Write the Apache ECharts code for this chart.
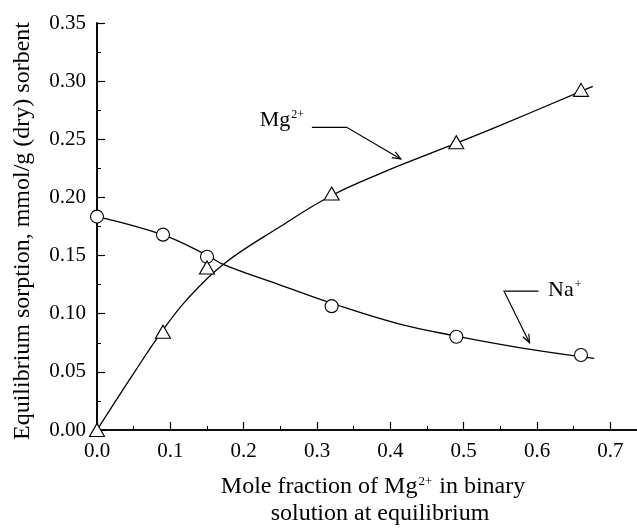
<!DOCTYPE html>
<html>
<head>
<meta charset="utf-8">
<script src="https://cdn.jsdelivr.net/npm/echarts@6/dist/echarts.min.js"></script>
<style>
html,body{margin:0;padding:0;overflow:hidden;background:#fff;width:637px;height:530px;}
#c{width:647px;height:530px;}
</style>
</head>
<body>
<div id="c"></div>
<script>
// Measured points
const xMeasured = [0.0, 0.09, 0.15, 0.32, 0.49, 0.66];
const naMeasured = [0.1835, 0.168, 0.149, 0.1065, 0.0802, 0.0645];
const mgMeasured = [0.0, 0.0845, 0.1398, 0.2033, 0.2475, 0.2925];
// Fitted curves
const naCurveX = [0.0, 0.089, 0.148, 0.172, 0.25, 0.32, 0.409, 0.488, 0.58, 0.678];
const naCurveY = [0.1835, 0.168, 0.151, 0.1424, 0.1246, 0.109, 0.0917, 0.081, 0.0705, 0.0616];
const mgCurveX = [0.0, 0.05, 0.09, 0.122, 0.172, 0.25, 0.318, 0.386, 0.477, 0.55, 0.676];
const mgCurveY = [0.0, 0.0487, 0.086, 0.1117, 0.1424, 0.175, 0.201, 0.2205, 0.2434, 0.262, 0.2955];
// Tick values
const xTicks = [0.0, 0.1, 0.2, 0.3, 0.4, 0.5, 0.6, 0.7];
const yTicks = [0.00, 0.05, 0.10, 0.15, 0.20, 0.25, 0.30, 0.35];
// Annotation anchors in data coordinates
const mgLabelPos = [0.222, 0.2663];
const mgLeader = [[0.293, 0.2603], [0.3405, 0.2603], [0.4142, 0.2331]];
const naLabelPos = [0.615, 0.1203];
const naLeader = [[0.602, 0.1194], [0.555, 0.1194], [0.5898, 0.075]];

const FONT = '"Liberation Serif","Times New Roman",serif';
const zip = (a, b) => a.map((v, i) => [v, b[i]]);

const chart = echarts.init(document.getElementById('c'), null, {renderer: 'canvas'});

const axisCommon = {
  axisLine: {show: true, lineStyle: {color: '#000', width: 1.6}},
  splitLine: {show: false},
};

chart.setOption({
  animation: false,
  backgroundColor: '#fff',
  grid: {left: 97, right: 0, top: 23, bottom: 100},
  xAxis: [{
    type: 'value', min: 0, max: 0.75, interval: 0.1,
    ...axisCommon,
    axisTick: {show: true, inside: true, length: 8, lineStyle: {color: '#000', width: 1.2}},
    minorTick: {show: true, splitNumber: 2, length: 4, lineStyle: {color: '#000', width: 1}},
    axisLabel: {
      color: '#000', fontFamily: FONT, fontSize: 21, margin: 11, showMaxLabel: false,
      formatter: v => {
        const hit = xTicks.find(t => Math.abs(t - v) < 1e-9);
        return hit === undefined ? '' : hit.toFixed(1);
      }
    }
  }, {
    type: 'value', position: 'top', min: 0, max: 0.75,
    ...axisCommon,
    axisTick: {show: false}, axisLabel: {show: false}
  }],
  yAxis: [{
    type: 'value', min: 0, max: 0.35, interval: 0.05,
    ...axisCommon,
    axisTick: {show: true, inside: true, length: 8, lineStyle: {color: '#000', width: 1.2}},
    minorTick: {show: true, splitNumber: 2, length: 4, lineStyle: {color: '#000', width: 1}},
    axisLabel: {
      color: '#000', fontFamily: FONT, fontSize: 21, margin: 11,
      formatter: v => {
        const hit = yTicks.find(t => Math.abs(t - v) < 1e-9);
        return hit === undefined ? '' : hit.toFixed(2);
      }
    }
  }, {
    type: 'value', position: 'right', min: 0, max: 0.35,
    ...axisCommon,
    axisTick: {show: false}, axisLabel: {show: false}
  }],
  series: [
    {type: 'line', data: zip(naCurveX, naCurveY), smooth: 0.4, symbol: 'none',
     lineStyle: {color: '#000', width: 1.3}, z: 2},
    {type: 'line', data: zip(mgCurveX, mgCurveY), smooth: 0.4, symbol: 'none',
     lineStyle: {color: '#000', width: 1.3}, z: 2},
    {type: 'scatter', data: zip(xMeasured, naMeasured), symbol: 'circle', symbolSize: 13,
     itemStyle: {color: '#fff', borderColor: '#000', borderWidth: 1.1, opacity: 1}, z: 5},
    {type: 'scatter', data: zip(xMeasured, mgMeasured), symbol: 'triangle', symbolSize: [15, 13],
     itemStyle: {color: '#fff', borderColor: '#000', borderWidth: 1.1, opacity: 1}, z: 5}
  ]
});

function px(p) { return chart.convertToPixel({gridIndex: 0}, p); }

function leaderGraphics(pts) {
  const P = pts.map(px);
  const tip = P[P.length - 1], prev = P[P.length - 2];
  const ang = Math.atan2(tip[1] - prev[1], tip[0] - prev[0]);
  const L = 9, W = 0.38;
  const a1 = [tip[0] - L * Math.cos(ang - W), tip[1] - L * Math.sin(ang - W)];
  const a2 = [tip[0] - L * Math.cos(ang + W), tip[1] - L * Math.sin(ang + W)];
  return [
    {type: 'polyline', shape: {points: P}, style: {stroke: '#000', lineWidth: 1.2, fill: null}, z: 10},
    {type: 'polyline', shape: {points: [a1, tip, a2]}, style: {stroke: '#000', lineWidth: 1.2, fill: null}, z: 10}
  ];
}

const richSup = {
  b: {fontFamily: FONT, fontSize: 22, fill: '#000', color: '#000'},
  s: {fontFamily: FONT, fontSize: 12, fill: '#000', color: '#000', verticalAlign: 'top', padding: [0, 0, 10, 1]}
};

const mgL = px(mgLabelPos), naL = px(naLabelPos);

chart.setOption({
  graphic: [
    ...leaderGraphics(mgLeader),
    ...leaderGraphics(naLeader),
    {type: 'text', x: mgL[0], y: mgL[1], z: 10,
     style: {text: '{b|Mg}{s|2+}', rich: richSup, verticalAlign: 'middle', align: 'left'}},
    {type: 'text', x: naL[0], y: naL[1], z: 10,
     style: {text: '{b|Na}{s|+}', rich: richSup, verticalAlign: 'middle', align: 'left'}},
    {type: 'text', x: 23, y: 231, rotation: Math.PI / 2, z: 10,
     style: {text: 'Equilibrium sorption, mmol/g (dry) sorbent', font: '24px ' + FONT, fill: '#000',
             align: 'center', verticalAlign: 'middle'}},
    {type: 'text', x: 373, y: 487, z: 10,
     style: {text: '{t|Mole fraction of Mg}{s|2+}{t| in binary}',
             rich: {t: {fontFamily: FONT, fontSize: 24, fill: '#000', color: '#000'},
                    s: {fontFamily: FONT, fontSize: 13, fill: '#000', color: '#000', verticalAlign: 'top', padding: [0, 1, 11, 1]}},
             align: 'center', verticalAlign: 'middle'}},
    {type: 'text', x: 380, y: 514, z: 10,
     style: {text: 'solution at equilibrium', font: '24px ' + FONT, fill: '#000',
             align: 'center', verticalAlign: 'middle'}}
  ]
});
</script>
</body>
</html>
